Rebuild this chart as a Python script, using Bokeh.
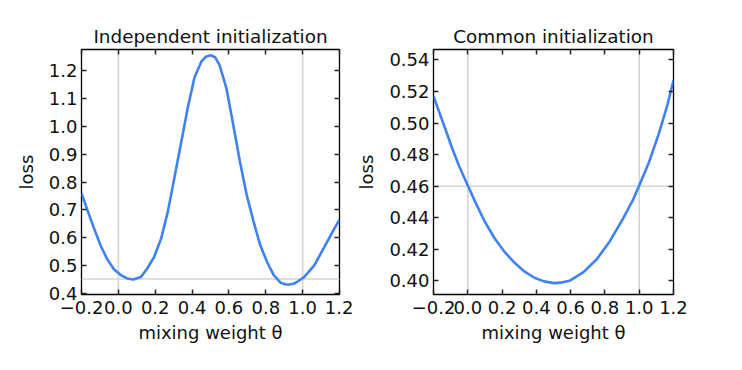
from bokeh.plotting import figure
from bokeh.models import Span, LinearAxis, FixedTicker, CustomJSTickFormatter, Range1d
from bokeh.layouts import row
from bokeh.embed import file_html
from bokeh.resources import INLINE

FONT = "DejaVu Sans"
BLUE = "#3f82f2"
GRID = "#d4d4d4"

# ---- data ----
x_indep = [-0.2, -0.171, -0.135, -0.097, -0.062, -0.024, 0.013, 0.048, 0.081, 0.122,
           0.157, 0.194, 0.232, 0.268, 0.303, 0.341, 0.376, 0.413, 0.45, 0.475,
           0.5, 0.525, 0.55, 0.587, 0.624, 0.66, 0.697, 0.734, 0.77, 0.807,
           0.843, 0.88, 0.905, 0.926, 0.95, 0.971, 1.008, 1.063, 1.118, 1.172, 1.2]
y_indep = [0.760, 0.705, 0.639, 0.573, 0.525, 0.487, 0.466, 0.454, 0.450, 0.459,
           0.490, 0.531, 0.597, 0.692, 0.812, 0.943, 1.065, 1.175, 1.232, 1.250,
           1.255, 1.248, 1.218, 1.135, 1.003, 0.872, 0.752, 0.657, 0.573, 0.513,
           0.466, 0.439, 0.433, 0.432, 0.435, 0.442, 0.459, 0.501, 0.567, 0.633, 0.665]

x_common = [-0.2, -0.166, -0.128, -0.090, -0.052, 0.0, 0.044, 0.101, 0.158, 0.216,
            0.273, 0.330, 0.388, 0.445, 0.503, 0.541, 0.598, 0.675, 0.752, 0.828,
            0.904, 0.962, 1.0, 1.057, 1.115, 1.162, 1.2]
y_common = [0.517, 0.5068, 0.4953, 0.4837, 0.4731, 0.4604, 0.4499, 0.4372, 0.4267, 0.4182,
            0.4115, 0.4060, 0.4020, 0.3997, 0.3986, 0.3989, 0.4003, 0.4056, 0.4137, 0.4250,
            0.4392, 0.4510, 0.4604, 0.4752, 0.4935, 0.5105, 0.527]

x_ticks = [-0.2, 0.0, 0.2, 0.4, 0.6, 0.8, 1.0, 1.2]
y_ticks_indep = [0.4, 0.5, 0.6, 0.7, 0.8, 0.9, 1.0, 1.1, 1.2]
y_ticks_common = [0.40, 0.42, 0.44, 0.46, 0.48, 0.50, 0.52, 0.54]

x_lim = (-0.2, 1.2)
y_lim_indep = (0.3964, 1.2756)
y_lim_common = (0.3914, 0.5466)

vlines = [0.0, 1.0]
hline_indep = 0.452
hline_common = 0.46

titles = ["Independent initialization", "Common initialization"]
x_label = "mixing weight \u03b8"
y_label = "loss"


def fmt(dec):
    return CustomJSTickFormatter(code="return tick.toFixed(%d).replace('-', '\u2212');" % dec)


def style_axis(ax, ticks, dec, show_labels):
    ax.ticker = FixedTicker(ticks=ticks)
    ax.axis_line_color = None
    ax.major_tick_in = 5
    ax.major_tick_out = 0
    ax.major_tick_line_color = "#222222"
    ax.major_tick_line_width = 1.5
    ax.minor_tick_line_color = None
    ax.major_label_text_font = FONT
    ax.major_label_text_color = "#111111"
    if show_labels:
        ax.formatter = fmt(dec)
        ax.major_label_text_font_size = "18px"
        ax.major_label_standoff = 4
    else:
        ax.formatter = CustomJSTickFormatter(code="return '';")
        ax.major_label_text_font_size = "0px"
        ax.major_label_standoff = 0


def make(title, xs, ys, yticks, ydec, ylim, hline, width, mbl, mbr):
    p = figure(width=width, height=360, output_backend="svg", toolbar_location=None,
               x_range=Range1d(*x_lim), y_range=Range1d(*ylim),
               min_border_left=mbl, min_border_right=mbr,
               min_border_top=49, min_border_bottom=66)
    p.grid.visible = False
    p.background_fill_color = "white"
    p.border_fill_color = "white"
    p.outline_line_color = "black"
    p.outline_line_width = 1.3

    p.title.text = title
    p.title.align = "center"
    p.title.text_font = FONT
    p.title.text_font_size = "18.4px"
    p.title.text_font_style = "normal"
    p.title.text_color = "#111111"
    p.title.standoff = 6

    xa = p.xaxis[0]
    ya = p.yaxis[0]
    style_axis(xa, x_ticks, 1, True)
    style_axis(ya, yticks, ydec, True)
    xa.major_label_standoff = 6
    ya.major_label_standoff = 4
    for ax in (xa, ya):
        ax.axis_label_text_font = FONT
        ax.axis_label_text_font_size = "18px"
        ax.axis_label_text_font_style = "normal"
        ax.axis_label_text_color = "#111111"
    xa.axis_label = x_label
    ya.axis_label = y_label
    xa.axis_label_standoff = 5
    ya.axis_label_standoff = 9

    top = LinearAxis()
    style_axis(top, x_ticks, 1, False)
    p.add_layout(top, "above")
    right = LinearAxis()
    style_axis(right, yticks, ydec, False)
    p.add_layout(right, "right")

    for v in vlines:
        p.add_layout(Span(location=v, dimension="height", line_color=GRID,
                          line_width=1.6, level="underlay"))
    p.add_layout(Span(location=hline, dimension="width", line_color=GRID,
                      line_width=1.6, level="underlay"))

    p.line(xs, ys, line_color=BLUE, line_width=2.6)
    return p


p1 = make(titles[0], x_indep, y_indep, y_ticks_indep, 1, y_lim_indep, hline_indep,
          width=353, mbl=81, mbr=14)
p2 = make(titles[1], x_common, y_common, y_ticks_common, 2, y_lim_common, hline_common,
          width=380, mbl=76, mbr=60)

layout = row(p1, p2)
open("out.html", "w").write(file_html(layout, INLINE))
